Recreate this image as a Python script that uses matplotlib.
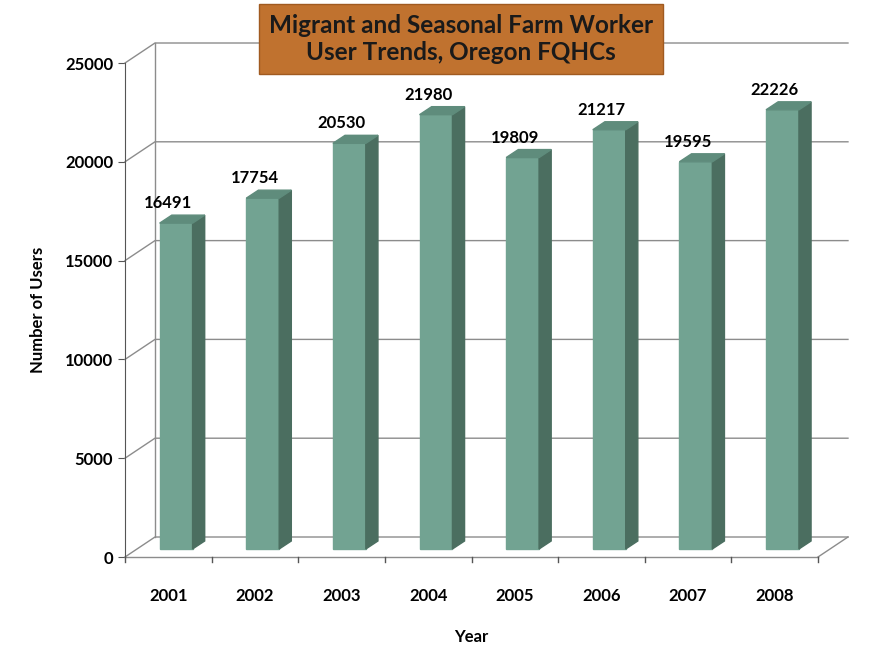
import matplotlib
matplotlib.use("Agg")
import matplotlib.pyplot as plt

plt.rcParams["font.family"] = ["Lato", "DejaVu Sans"]

years = ["2001", "2002", "2003", "2004", "2005", "2006", "2007", "2008"]
users = [16491, 17754, 20530, 21980, 19809, 21217, 19595, 22226]
yticks = [0, 5000, 10000, 15000, 20000, 25000]

fig = plt.figure(figsize=(8.8, 6.61), dpi=100)
ax = fig.add_axes([125 / 880, 104 / 661, 693 / 880, 494 / 661])
ax.set_xlim(0, 8)
ax.set_ylim(0, 25000)
for s in ax.spines.values():
    s.set_visible(False)

# depth offsets (data units)
BX, BY = 0.346, 1012      # back wall
MX, MY = 0.09, 405        # bar front face
SX, SY = 0.14, 405        # bar side depth
W = 0.38
grid = "#8c8c8c"

for v in yticks:
    ax.plot([0, BX, 8 + BX], [v, v + BY, v + BY], color=grid, lw=1, clip_on=False)
ax.plot([BX, BX], [BY, 25000 + BY], color=grid, lw=1, clip_on=False)
ax.plot([8, 8 + BX], [0, BY], color=grid, lw=1, clip_on=False)
ax.plot([0, 8], [0, 0], color=grid, lw=1, clip_on=False)

for i, v in enumerate(users):
    x0 = i + 0.5 - W / 2 + MX
    x1 = x0 + W
    y0 = MY
    top = v + MY
    ax.fill([x0, x1, x1, x0], [y0, y0, top, top], color="#72a392", zorder=3, clip_on=False)
    ax.fill([x1, x1 + SX, x1 + SX, x1], [y0, y0 + SY, top + SY, top],
            color="#4b6e60", zorder=3, clip_on=False)
    ax.fill([x0, x1, x1 + SX, x0 + SX], [top, top, top + SY, top + SY],
            color="#5f8c7c", zorder=3, clip_on=False)
    ax.text(i + 0.5, top + SY + 200, str(v), ha="center", va="bottom",
            fontsize=12, fontweight="bold", zorder=4)

ax.set_xticks([i + 0.5 for i in range(8)])
ax.set_xticklabels(years, fontsize=12, fontweight="bold")
ax.tick_params(axis="x", length=0, pad=22)
for i in range(9):
    ax.plot([i, i], [0, -250], color="#555555", lw=1, clip_on=False)
ax.set_yticks(yticks)
ax.set_yticklabels([str(t) for t in yticks], fontsize=12, fontweight="bold")
ax.tick_params(axis="y", direction="out", length=5, color="#555555")
ax.spines["left"].set_visible(True)
ax.spines["left"].set_color("#555555")
ax.set_xlabel("Year", fontsize=12, fontweight="bold", labelpad=18)
ax.set_ylabel("Number of Users", fontsize=12, fontweight="bold", labelpad=14)

fig.text(461 / 880, 1 - 39 / 661, "Migrant and Seasonal Farm Worker\nUser Trends, Oregon FQHCs",
         ha="center", va="center", fontsize=17.5, fontweight="bold", color="#1a1a1a",
         linespacing=1.25,
         bbox=dict(boxstyle="square,pad=0.4", facecolor="#c0722f", edgecolor="#a05a20"))

fig.savefig("out.png", dpi=100, facecolor="white")
